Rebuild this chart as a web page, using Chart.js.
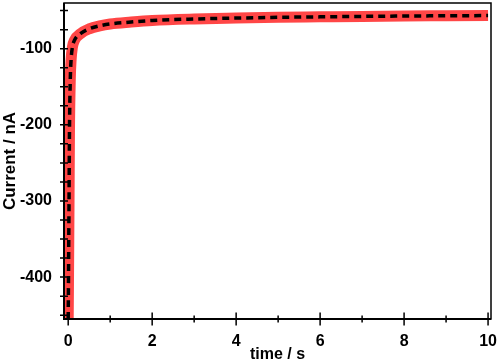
<!DOCTYPE html>
<html>
<head>
<meta charset="utf-8">
<script src="https://cdn.jsdelivr.net/npm/chart.js@4"></script>
<style>
  html, body { margin: 0; padding: 0; background: #fff; }
  #wrap { width: 498px; height: 364px; }
</style>
</head>
<body>
<div id="wrap"><canvas id="myChart" width="498" height="364"></canvas></div>
<script>
// time (s) and current (nA)
const timeS = [0, 0.005, 0.01, 0.02, 0.03, 0.05, 0.07, 0.1, 0.15, 0.3, 0.5, 0.75, 1, 1.5, 2, 3, 4, 5, 6, 7, 8, 9, 10];
const currentNA = [-455, -420, -380, -300, -210, -140, -114, -98, -89, -80, -74, -70, -67.5, -65, -63, -61, -59.8, -58.8, -58.2, -57.6, -57.1, -56.8, -56.5];
const xTickLabels = [0, 2, 4, 6, 8, 10];
const yTickLabels = [-100, -200, -300, -400];

const points = timeS.map((t, i) => ({ x: t, y: currentNA[i] }));
const font = { family: "'Liberation Sans', Arial, sans-serif", size: 16, weight: "bold" };

// frame and ticks that cross the axis lines
const frame = {
    id: "frame",
    afterDraw(chart) {
        const { ctx, chartArea: a, scales } = chart;
        ctx.save();
        ctx.strokeStyle = "#000";
        ctx.lineWidth = 1.5;
        ctx.strokeRect(a.left, a.top, a.right - a.left, a.bottom - a.top);
        ctx.lineWidth = 2;
        ctx.beginPath();
        ctx.moveTo(a.left, a.top); ctx.lineTo(a.left, a.bottom); ctx.lineTo(a.right, a.bottom);
        ctx.stroke();
        ctx.lineWidth = 1.5;
        ctx.beginPath();
        scales.x.ticks.forEach(t => {
            const px = scales.x.getPixelForValue(t.value);
            const len = xTickLabels.includes(t.value) ? 6.5 : 3.5;
            ctx.moveTo(px, a.bottom - len); ctx.lineTo(px, a.bottom + len);
        });
        scales.y.ticks.forEach(t => {
            if (t.value % 25 !== 0) return;
            const py = scales.y.getPixelForValue(t.value);
            ctx.moveTo(a.left - 4, py); ctx.lineTo(a.left + 4, py);
        });
        ctx.stroke();
        ctx.restore();
    }
};

new Chart(document.getElementById("myChart"), {
    type: "line",
    data: {
        datasets: [
            {
                data: points,
                borderColor: "rgba(255, 60, 60, 0.95)",
                borderWidth: 11,
                pointRadius: 0,
                cubicInterpolationMode: "monotone",
                order: 2
            },
            {
                data: points,
                borderColor: "#000",
                borderWidth: 3.5,
                borderDash: [7, 5],
                pointRadius: 0,
                cubicInterpolationMode: "monotone",
                order: 1
            }
        ]
    },
    options: {
        responsive: false,
        animation: false,
        layout: { padding: { left: 0, right: 7, top: 3, bottom: 0 } },
        plugins: { legend: { display: false }, tooltip: { enabled: false } },
        scales: {
            x: {
                type: "linear",
                min: -0.1,
                max: 10.07,
                grid: { display: false, drawTicks: false },
                border: { display: false },
                ticks: {
                    stepSize: 1,
                    includeBounds: false,
                    autoSkip: false,
                    maxRotation: 0,
                    padding: 13,
                    color: "#000",
                    font: font,
                    callback: v => xTickLabels.includes(v) ? String(v) : ""
                },
                title: { display: true, text: "time / s", color: "#000", font: font, padding: 0 },
                afterFit(s) { s.height = 45; s.paddingLeft = 0; s.paddingRight = 0; }
            },
            y: {
                min: -455,
                max: -40,
                grid: { display: false, drawTicks: false },
                border: { display: false },
                ticks: {
                    stepSize: 25,
                    includeBounds: false,
                    autoSkip: false,
                    padding: 12,
                    color: "#000",
                    font: font,
                    callback: v => yTickLabels.includes(v) ? String(v) : ""
                },
                title: { display: true, text: "Current / nA", color: "#000", font: { ...font, size: 17 }, padding: 0 },
                afterFit(s) { s.width = 64; s.paddingTop = 0; s.paddingBottom = 0; }
            }
        }
    },
    plugins: [frame]
});
</script>
</body>
</html>
